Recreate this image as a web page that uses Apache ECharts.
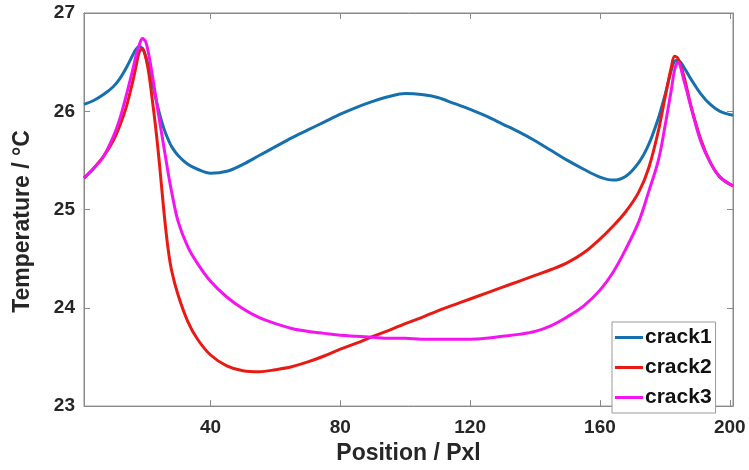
<!DOCTYPE html>
<html>
<head>
<meta charset="utf-8">
<script src="https://cdn.jsdelivr.net/npm/echarts@6/dist/echarts.min.js"></script>
<style>html,body{margin:0;padding:0;background:#fff;}#c{width:749px;height:470px;}</style>
</head>
<body>
<div id="c"></div>
<script>
var positions = [1, 4, 7, 10, 12, 14, 16, 17, 18, 19, 20, 21, 22, 23, 24, 25, 26, 27, 28, 30, 33, 36, 40, 45, 50, 55, 60, 65, 70, 75, 80, 85, 90, 95, 100, 105, 110, 115, 120, 125, 130, 135, 140, 145, 150, 155, 160, 164, 168, 172, 175, 178, 180, 182, 183, 184, 186, 188, 191, 194, 197, 201];
var crack1 = [26.07, 26.11, 26.17, 26.25, 26.33, 26.44, 26.57, 26.63, 26.66, 26.64, 26.56, 26.44, 26.30, 26.15, 26.01, 25.89, 25.79, 25.71, 25.64, 25.55, 25.46, 25.41, 25.37, 25.39, 25.46, 25.55, 25.64, 25.73, 25.81, 25.89, 25.97, 26.04, 26.10, 26.15, 26.18, 26.17, 26.14, 26.08, 26.02, 25.95, 25.87, 25.79, 25.70, 25.60, 25.50, 25.41, 25.33, 25.30, 25.34, 25.48, 25.66, 25.93, 26.16, 26.42, 26.51, 26.52, 26.44, 26.33, 26.18, 26.07, 26.00, 25.96];
var crack2 = [25.32, 25.42, 25.54, 25.70, 25.85, 26.04, 26.30, 26.45, 26.60, 26.64, 26.55, 26.38, 26.13, 25.86, 25.55, 25.20, 24.86, 24.58, 24.38, 24.13, 23.86, 23.68, 23.52, 23.41, 23.36, 23.35, 23.37, 23.40, 23.45, 23.51, 23.58, 23.64, 23.71, 23.77, 23.84, 23.90, 23.97, 24.03, 24.09, 24.15, 24.21, 24.27, 24.33, 24.39, 24.46, 24.56, 24.70, 24.83, 24.98, 25.18, 25.42, 25.80, 26.13, 26.45, 26.56, 26.54, 26.34, 26.06, 25.72, 25.48, 25.33, 25.24];
var crack3 = [25.32, 25.42, 25.54, 25.74, 25.92, 26.16, 26.42, 26.56, 26.67, 26.74, 26.71, 26.57, 26.38, 26.17, 25.96, 25.76, 25.56, 25.36, 25.18, 24.88, 24.62, 24.45, 24.27, 24.11, 23.99, 23.90, 23.84, 23.79, 23.76, 23.74, 23.72, 23.71, 23.70, 23.69, 23.69, 23.68, 23.68, 23.68, 23.68, 23.69, 23.71, 23.73, 23.76, 23.82, 23.91, 24.02, 24.18, 24.36, 24.60, 24.88, 25.18, 25.50, 25.84, 26.22, 26.42, 26.50, 26.30, 26.05, 25.70, 25.48, 25.33, 25.24];
var xTicks = [40, 80, 120, 160, 200];
var seriesNames = ['crack1', 'crack2', 'crack3'];

function pairs(ys) { return positions.map(function (x, i) { return [x, ys[i]]; }); }

var font = '"Liberation Sans", Arial, sans-serif';
var axisColor = '#8a8a8a';
var labelColor = '#262626';

var chart = echarts.init(document.getElementById('c'), null, { renderer: 'canvas' });
chart.setOption({
  animation: false,
  backgroundColor: '#fff',
  grid: { left: 84, right: 16, top: 13, bottom: 54, show: true, borderColor: axisColor, borderWidth: 1 },
  legend: {
    data: seriesNames,
    orient: 'vertical',
    left: 612, top: 322,
    icon: 'rect',
    backgroundColor: '#fff',
    borderColor: '#999', borderWidth: 1,
    padding: [5, 4, 5, 3],
    itemWidth: 28, itemHeight: 3, itemGap: 9,
    textStyle: { fontFamily: font, fontWeight: 'bold', fontSize: 21, color: '#111', padding: [0, 0, 0, -3] }
  },
  xAxis: [{
    type: 'value', min: 1, max: 201,
    name: 'Position / Pxl', nameLocation: 'middle', nameGap: 30,
    nameTextStyle: { fontFamily: font, fontWeight: 'bold', fontSize: 23, color: labelColor },
    axisLine: { show: true, lineStyle: { color: axisColor } },
    axisTick: { show: true, inside: true, length: 6, customValues: xTicks, lineStyle: { color: axisColor } },
    axisLabel: { customValues: xTicks, fontFamily: font, fontWeight: 'bold', fontSize: 19, color: labelColor, margin: 12 },
    splitLine: { show: false }
  }, {
    type: 'value', min: 1, max: 201, position: 'top',
    axisLine: { show: true, lineStyle: { color: axisColor } },
    axisTick: { show: true, inside: true, length: 6, customValues: xTicks, lineStyle: { color: axisColor } },
    axisLabel: { show: false }, splitLine: { show: false }
  }],
  yAxis: [{
    type: 'value', min: 23, max: 27, interval: 1,
    name: 'Temperature / °C', nameLocation: 'middle', nameGap: 50,
    nameTextStyle: { fontFamily: font, fontWeight: 'bold', fontSize: 23, color: labelColor, padding: [0, 24, 0, 0] },
    axisLine: { show: true, lineStyle: { color: axisColor } },
    axisTick: { show: true, inside: true, length: 6, lineStyle: { color: axisColor } },
    axisLabel: { fontFamily: font, fontWeight: 'bold', fontSize: 19, color: labelColor, margin: 9 },
    splitLine: { show: false }
  }, {
    type: 'value', min: 23, max: 27, interval: 1, position: 'right',
    axisLine: { show: true, lineStyle: { color: axisColor } },
    axisTick: { show: true, inside: true, length: 6, lineStyle: { color: axisColor } },
    axisLabel: { show: false }, splitLine: { show: false }
  }],
  series: [
    { name: seriesNames[0], type: 'line', data: pairs(crack1), smooth: 0.35, symbol: 'none', lineStyle: { color: '#1770AE', width: 3 }, itemStyle: { color: '#1770AE' } },
    { name: seriesNames[1], type: 'line', data: pairs(crack2), smooth: 0.35, symbol: 'none', lineStyle: { color: '#E81A14', width: 3 }, itemStyle: { color: '#E81A14' } },
    { name: seriesNames[2], type: 'line', data: pairs(crack3), smooth: 0.35, symbol: 'none', lineStyle: { color: '#F414F0', width: 3 }, itemStyle: { color: '#F414F0' } }
  ]
});
</script>
</body>
</html>
